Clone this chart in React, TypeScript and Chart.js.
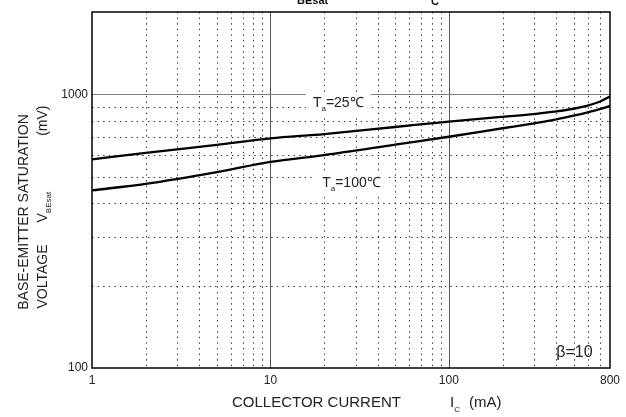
import React, { useEffect, useRef } from "react";
import { Chart, registerables } from "chart.js";

Chart.register(...registerables);

// Collector current (mA)
const currentMA = [1, 2, 5, 10, 20, 50, 100, 200, 300, 400, 500, 600, 700, 800];
// V_BEsat (mV) at Ta = 25 C
const vbe25 = [579, 611, 654, 690, 716, 760, 795, 828, 847, 866, 886, 910, 940, 982];
// V_BEsat (mV) at Ta = 100 C
const vbe100 = [446, 471, 520, 567, 600, 655, 700, 752, 784, 810, 836, 860, 883, 907];

const xTickLabels = [1, 10, 100, 800];
const yTickLabels = [100, 1000];
const xMajorGrid = [10, 100];
const xMinorGrid = [2, 3, 4, 5, 6, 7, 8, 9, 20, 30, 40, 50, 60, 70, 80, 90, 200, 300, 400, 500, 600, 700];
const yMajorGrid = [1000];
const yMinorGrid = [200, 300, 400, 500, 600, 700, 800, 900];

const FONT = "'Liberation Sans', Arial, Helvetica, sans-serif";

type Part = { t: string; sub?: boolean; gap?: number };

function drawRich(ctx: CanvasRenderingContext2D, parts: Part[], x: number, y: number, size: number, subSize: number, align: "left" | "center", weight = "normal") {
  const fMain = `${weight} ${size}px ${FONT}`;
  const fSub = `${weight} ${subSize}px ${FONT}`;
  let total = 0;
  for (const p of parts) {
    if (p.gap) { total += p.gap; continue; }
    ctx.font = p.sub ? fSub : fMain;
    total += ctx.measureText(p.t).width;
  }
  let cx = align === "center" ? x - total / 2 : x;
  ctx.textAlign = "left";
  ctx.textBaseline = "middle";
  for (const p of parts) {
    if (p.gap) { cx += p.gap; continue; }
    ctx.font = p.sub ? fSub : fMain;
    ctx.fillText(p.t, cx, p.sub ? y + size * 0.42 : y);
    cx += ctx.measureText(p.t).width;
  }
  return total;
}

const gridPlugin = {
  id: "customGrid",
  beforeDatasetsDraw(chart: any) {
    const { ctx, chartArea: a, scales } = chart;
    const xs = scales.x, ys = scales.y;
    ctx.save();
    ctx.lineWidth = 1;
    ctx.strokeStyle = "#333";
    ctx.setLineDash([1.4, 4.2]);
    for (const v of xMinorGrid) {
      const px = Math.round(xs.getPixelForValue(v)) + 0.5;
      ctx.beginPath(); ctx.moveTo(px, a.top); ctx.lineTo(px, a.bottom); ctx.stroke();
    }
    for (const v of yMinorGrid) {
      const py = Math.round(ys.getPixelForValue(v)) + 0.5;
      ctx.beginPath(); ctx.moveTo(a.left, py); ctx.lineTo(a.right, py); ctx.stroke();
    }
    ctx.setLineDash([]);
    ctx.strokeStyle = "#555";
    for (const v of xMajorGrid) {
      const px = Math.round(xs.getPixelForValue(v)) + 0.5;
      ctx.beginPath(); ctx.moveTo(px, a.top); ctx.lineTo(px, a.bottom); ctx.stroke();
    }
    ctx.strokeStyle = "#808080";
    for (const v of yMajorGrid) {
      const py = Math.round(ys.getPixelForValue(v)) + 0.5;
      ctx.beginPath(); ctx.moveTo(a.left, py); ctx.lineTo(a.right, py); ctx.stroke();
    }
    ctx.restore();
  },
  afterDatasetsDraw(chart: any) {
    const { ctx, chartArea: a, scales } = chart;
    const xs = scales.x, ys = scales.y;
    ctx.save();
    ctx.fillStyle = "#222";
    // curve labels with white background
    const labels: { x: number; y: number; parts: Part[] }[] = [
      { x: 17.3, y: 930, parts: [{ t: "T" }, { t: "a", sub: true }, { t: "=25\u2103" }] },
      { x: 19.5, y: 473, parts: [{ t: "T" }, { t: "a", sub: true }, { t: "=100\u2103" }] },
    ];
    for (const l of labels) {
      const px = xs.getPixelForValue(l.x);
      const py = ys.getPixelForValue(l.y);
      let w = 0;
      for (const p of l.parts) {
        ctx.font = `${p.sub ? 8 : 14}px ${FONT}`;
        w += ctx.measureText(p.t).width;
      }
      ctx.fillStyle = "#fff";
      ctx.fillRect(px - 7, py - 10, w + 14, 22);
      ctx.fillStyle = "#222";
      drawRich(ctx, l.parts, px, py, 14, 8, "left");
    }
    // beta label
    ctx.font = `16px ${FONT}`;
    ctx.textAlign = "left";
    ctx.textBaseline = "middle";
    ctx.fillText("\u03b2=10", xs.getPixelForValue(400), ys.getPixelForValue(114));

    // plot border
    ctx.strokeStyle = "#000";
    ctx.lineWidth = 1.5;
    ctx.strokeRect(a.left, a.top, a.right - a.left, a.bottom - a.top);

    // x axis title
    ctx.fillStyle = "#222";
    drawRich(ctx, [{ t: "COLLECTOR CURRENT" }], a.left + 140, 403, 15, 8, "left");
    drawRich(ctx, [{ t: "I" }, { t: "C", sub: true }, { gap: 9 }, { t: "(mA)" }], a.left + 358, 403, 15, 8, "left");

    // y axis title (rotated)
    ctx.save();
    ctx.translate(24, 212);
    ctx.rotate(-Math.PI / 2);
    drawRich(ctx, [{ t: "BASE-EMITTER SATURATION" }], 0, 0, 14, 8, "center");
    ctx.restore();
    ctx.save();
    ctx.translate(43, 207);
    ctx.rotate(-Math.PI / 2);
    drawRich(ctx, [{ t: "VOLTAGE" }, { gap: 22 }, { t: "V" }, { t: "BEsat", sub: true }, { gap: 56 }, { t: "(mV)" }], 0, 0, 14, 8, "center");
    ctx.restore();

    // chart title (cut off at the top of the picture)
    ctx.fillStyle = "#111";
    ctx.font = `bold 18px ${FONT}`;
    ctx.textBaseline = "alphabetic";
    ctx.textAlign = "right";
    ctx.fillText("V", 297, -4);
    ctx.fillText("I", 431, -4);
    ctx.textAlign = "left";
    ctx.font = `bold 11px ${FONT}`;
    ctx.fillText("BEsat", 297, 4);
    ctx.fillText("C", 431, 5);
    ctx.restore();
  },
};

export default function App() {
  const ref = useRef<HTMLCanvasElement>(null);
  useEffect(() => {
    if (!ref.current) return;
    const chart = new Chart(ref.current, {
      type: "line",
      data: {
        datasets: [
          {
            label: "Ta=25\u2103",
            data: currentMA.map((x, i) => ({ x, y: vbe25[i] })),
            borderColor: "#000",
            borderWidth: 2.3,
            pointRadius: 0,
            fill: false,
            tension: 0.4,
            cubicInterpolationMode: "monotone",
          },
          {
            label: "Ta=100\u2103",
            data: currentMA.map((x, i) => ({ x, y: vbe100[i] })),
            borderColor: "#000",
            borderWidth: 2.3,
            pointRadius: 0,
            fill: false,
            tension: 0.4,
            cubicInterpolationMode: "monotone",
          },
        ],
      },
      options: {
        responsive: false,
        animation: false,
        devicePixelRatio: 1,
        layout: { padding: { left: 0, top: 12, right: 16, bottom: 0 } },
        plugins: { legend: { display: false }, tooltip: { enabled: false }, title: { display: false } },
        scales: {
          x: {
            type: "logarithmic",
            min: 1,
            max: 800,
            grid: { display: false, drawTicks: false },
            border: { display: false },
            afterBuildTicks: (s: any) => { s.ticks = xTickLabels.map((v) => ({ value: v })); },
            afterFit: (s: any) => { s.height = 49; },
            ticks: {
              autoSkip: false,
              maxRotation: 0,
              padding: 5,
              color: "#222",
              font: { family: FONT, size: 12 },
              callback: (v: any) => String(v),
            },
          },
          y: {
            type: "logarithmic",
            min: 100,
            max: 2000,
            grid: { display: false, drawTicks: false },
            border: { display: false },
            afterBuildTicks: (s: any) => { s.ticks = yTickLabels.map((v) => ({ value: v })); },
            afterFit: (s: any) => { s.width = 92; },
            ticks: {
              autoSkip: false,
              padding: 4,
              color: "#222",
              font: { family: FONT, size: 12 },
              callback: (v: any) => String(v),
            },
          },
        },
      },
      plugins: [gridPlugin],
    } as any);
    return () => chart.destroy();
  }, []);
  return (
    <div style={{ position: "absolute", left: 0, top: 0, width: 626, height: 417, background: "#fff" }}>
      <canvas ref={ref} width={626} height={417} style={{ display: "block", width: 626, height: 417 }} />
    </div>
  );
}
